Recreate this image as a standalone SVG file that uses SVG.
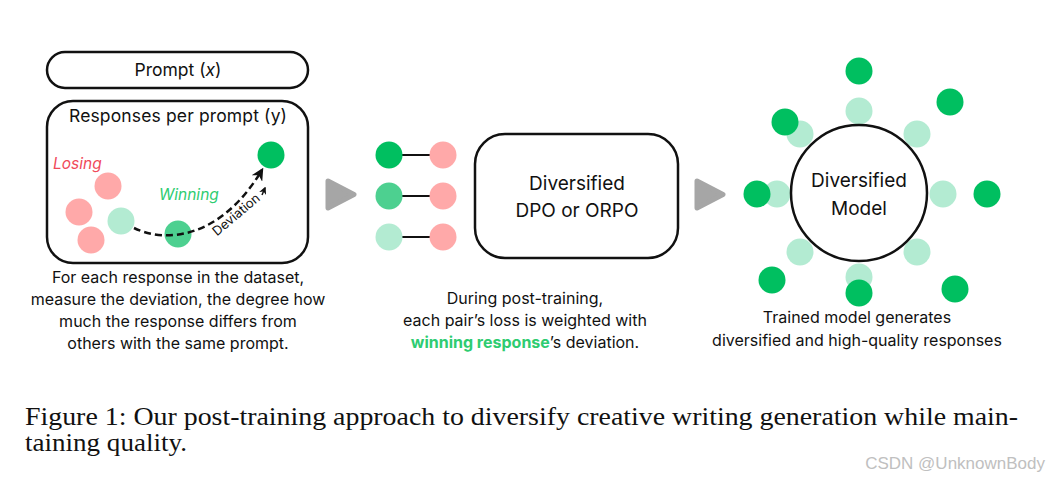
<svg xmlns="http://www.w3.org/2000/svg" width="1050" height="478" viewBox="0 0 1050 478">
<defs>
<style>
.t{font-family:Inter,"DejaVu Sans",sans-serif;fill:#111;}
.box{fill:#fff;stroke:#111;stroke-width:2.5;}
.dg{fill:#00BF60;}
.mg{fill:#4DD090;}
.lg{fill:#B3EBD2;}
.pk{fill:#FFA9A9;}
.tri{fill:#A6A6A6;stroke:#A6A6A6;stroke-width:5;stroke-linejoin:round;}
.cap{font-family:"Liberation Serif","DejaVu Serif",serif;font-size:25px;fill:#111;}
</style>
<marker id="ah" viewBox="0 0 10 10" refX="8" refY="5" markerWidth="5" markerHeight="5" orient="auto">
<path d="M0,0 L10,5 L0,10 L3,5 z" fill="#111"/>
</marker>
</defs>
<rect width="1050" height="478" fill="#fff"/>

<g id="prompt">
<rect class="box" x="47" y="52" width="261" height="36" rx="18"/>
<text class="t" x="178" y="76" font-size="17.5" text-anchor="middle">Prompt (<tspan font-style="italic">x</tspan>)</text>
</g>

<g id="responses">
<rect class="box" x="47" y="101" width="261" height="162" rx="26"/>
<text class="t" x="178" y="122" font-size="17.5" text-anchor="middle" textLength="218">Responses per prompt (y)</text>
<text x="53" y="169" font-size="15.5" font-style="italic" fill="#F04A5A" font-family="Inter,'DejaVu Sans',sans-serif">Losing</text>
<text x="159" y="200" font-size="15.5" font-style="italic" fill="#2ECC71" font-family="Inter,'DejaVu Sans',sans-serif">Winning</text>
<circle class="pk" cx="108" cy="186" r="13.5"/>
<circle class="pk" cx="79" cy="212" r="13.5"/>
<circle class="pk" cx="91" cy="240" r="13.5"/>
<circle class="lg" cx="121" cy="221" r="13.5"/>
<circle class="mg" cx="178" cy="234" r="13.5"/>
<circle class="dg" cx="271" cy="155" r="13.5"/>
<path d="M134,228 C165,243 220,240 262,170" fill="none" stroke="#111" stroke-width="2.5" stroke-dasharray="7 4" marker-end="url(#ah)"/>
<text class="t" font-size="13" text-anchor="middle" transform="translate(239,218) rotate(-40)">Deviation</text>
<path d="M262,195 L265,188" stroke="#111" stroke-width="1.5" marker-end="url(#ah)"/>
<text class="t" font-size="16" text-anchor="middle"><tspan x="178" y="283">For each response in the dataset,</tspan><tspan x="178" y="305">measure the deviation, the degree how</tspan><tspan x="178" y="327">much the response differs from</tspan><tspan x="178" y="349">others with the same prompt.</tspan></text>
</g>

<g id="connectors">
<path class="tri" d="M328,181 L354,194.5 L328,208 z"/>
<path class="tri" d="M697,181 L723,194.5 L697,208 z"/>
</g>

<g id="pairs">
<line x1="389" y1="155" x2="443" y2="155" stroke="#111" stroke-width="2"/>
<line x1="389" y1="196" x2="443" y2="196" stroke="#111" stroke-width="2"/>
<line x1="389" y1="237" x2="443" y2="237" stroke="#111" stroke-width="2"/>
<circle class="dg" cx="389" cy="155" r="13.5"/>
<circle class="mg" cx="389" cy="196" r="13.5"/>
<circle class="lg" cx="389" cy="237" r="13.5"/>
<circle class="pk" cx="443" cy="155" r="13.5"/>
<circle class="pk" cx="443" cy="196" r="13.5"/>
<circle class="pk" cx="443" cy="237" r="13.5"/>
</g>

<g id="dpo">
<rect class="box" x="475" y="134" width="203" height="124" rx="30"/>
<text class="t" font-size="19" text-anchor="middle"><tspan x="577" y="190">Diversified</tspan><tspan x="577" y="217">DPO or ORPO</tspan></text>
<text class="t" font-size="16" text-anchor="middle"><tspan x="525" y="304">During post-training,</tspan><tspan x="525" y="326">each pair’s loss is weighted with</tspan><tspan x="525" y="348"><tspan fill="#2ECC71" font-weight="bold">winning response</tspan>’s deviation.</tspan></text>
</g>

<g id="model">
<circle class="lg" cx="859" cy="111" r="13.5"/>
<circle class="lg" cx="917" cy="134" r="13.5"/>
<circle class="lg" cx="943" cy="194" r="13.5"/>
<circle class="lg" cx="917" cy="252" r="13.5"/>
<circle class="lg" cx="859" cy="277" r="13.5"/>
<circle class="lg" cx="800" cy="252" r="13.5"/>
<circle class="lg" cx="777" cy="194" r="13.5"/>
<circle class="lg" cx="800" cy="134" r="13.5"/>
<circle class="box" cx="859" cy="193" r="68"/>
<circle class="dg" cx="859" cy="71" r="13.5"/>
<circle class="dg" cx="950" cy="102" r="13.5"/>
<circle class="dg" cx="987" cy="194" r="13.5"/>
<circle class="dg" cx="955" cy="289" r="13.5"/>
<circle class="dg" cx="859" cy="293" r="13.5"/>
<circle class="dg" cx="772" cy="280" r="13.5"/>
<circle class="dg" cx="757" cy="194" r="13.5"/>
<circle class="dg" cx="785" cy="122" r="13.5"/>
<text class="t" font-size="19" text-anchor="middle"><tspan x="859" y="187">Diversified</tspan><tspan x="859" y="215">Model</tspan></text>
<text class="t" font-size="16" text-anchor="middle"><tspan x="857" y="323">Trained model generates</tspan><tspan x="857" y="346">diversified and high-quality responses</tspan></text>
</g>

<g id="caption">
<text class="cap" x="25" y="425" textLength="993" lengthAdjust="spacingAndGlyphs">Figure 1: Our post-training approach to diversify creative writing generation while main-</text>
<text class="cap" x="25" y="451" textLength="162" lengthAdjust="spacingAndGlyphs">taining quality.</text>
<text x="1045" y="469" font-size="17" text-anchor="end" fill="#C0C0C0" font-family="'Liberation Sans Narrow','Liberation Sans',sans-serif">CSDN @UnknownBody</text>
</g>
</svg>
